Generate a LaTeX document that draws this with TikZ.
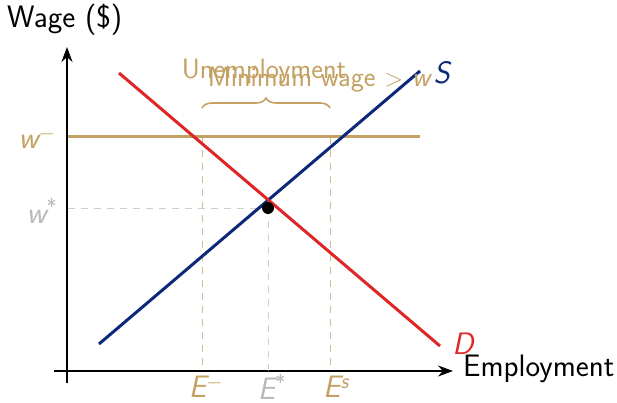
\documentclass[tikz,border=0pt]{standalone}
\usetikzlibrary{decorations.pathreplacing,arrows.meta}
\definecolor{tan}{RGB}{196,160,98}
\definecolor{navy}{RGB}{12,40,120}
\definecolor{dred}{RGB}{222,38,38}
\definecolor{lgray}{RGB}{185,185,185}
\newcommand{\mytxt}[1]{\fontsize{31}{34}\selectfont\sffamily #1}
\newcommand{\mysym}[2]{\fontsize{31}{34}\selectfont\sffamily\itshape #1\textsuperscript{\upshape #2}}
\begin{document}
\begin{tikzpicture}[x=1pt,y=-1pt,
  axis/.style={line width=1.6pt,-{Stealth[length=15pt,width=11pt]}},
  curve/.style={line width=3pt},
  guide/.style={line width=0.7pt,dash pattern=on 7pt off 6pt,opacity=0.7},
  lbl/.style={inner sep=0pt,anchor=center}]
\useasboundingbox (0,0) rectangle (617,403);
% axes
\coordinate (o1) at (67,383);
\coordinate (ytip) at (67,47);
\coordinate (o2) at (54,371);
\coordinate (xtip) at (453,371);
\draw[axis] (o1) -- (ytip);
\draw[axis] (o2) -- (xtip);
\node[lbl,anchor=west] (ylab) at (7,20) {\mytxt{Wage (\$)}};
\node[lbl,anchor=west] (xlab) at (463,369) {\mytxt{Employment}};
% min wage
\coordinate (mw1) at (68,137);
\coordinate (mw2) at (420,137);
\draw[tan,curve] (mw1) -- (mw2);
% guides
\coordinate (em) at (202,137);
\coordinate (emb) at (202,371);
\coordinate (es) at (330,137);
\coordinate (esb) at (330,371);
\draw[tan,guide] (em) -- (emb);
\draw[tan,guide] (es) -- (esb);
\coordinate (eq) at (268,208);
\coordinate (eqb) at (268,371);
\coordinate (wl) at (68,208);
\draw[lgray,guide] (wl) -- (eq);
\draw[lgray,guide] (eq) -- (eqb);
% supply & demand
\coordinate (s1) at (99,344);
\coordinate (s2) at (420,71);
\coordinate (d1) at (119,73);
\coordinate (d2) at (440,346);
\draw[navy,curve] (s1) -- (s2);
\draw[dred,curve] (d1) -- (d2);
\fill (eq) circle (6pt);
\node[lbl] (S) at (442,73) {\mysym{\color{navy}S}{}};
\node[lbl] (D) at (463,344) {\mysym{\color{dred}D}{}};
% brace
\draw[tan,line width=1.6pt,decorate,decoration={brace,amplitude=10pt}] (em |- 0,108) -- (es |- 0,108) node[midway] (br) {};
\node[lbl] (unemp) at (264,72) {\fontsize{28}{31}\selectfont\sffamily\color{tan}Unemployment};
\node[lbl] (minw) at (320,80) {\fontsize{28}{31}\selectfont\sffamily\color{tan}Minimum wage $>$ \textit{w}};
% labels
\node[lbl] (wm) at (37,138) {\color{tan}\mysym{w}{$-$}};
\node[lbl] (ws) at (42,211) {\color{lgray}\mysym{w}{*}};
\node[lbl] (Em) at (206,387) {\color{tan}\mysym{E}{$-$}};
\node[lbl] (Es) at (272,387) {\color{lgray}\mysym{E}{*}};
\node[lbl] (Ess) at (336,387) {\color{tan}\mysym{E}{\itshape s}};
\end{tikzpicture}
\end{document}
